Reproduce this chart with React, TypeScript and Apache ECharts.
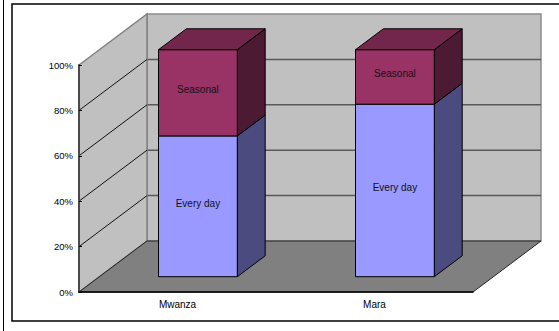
import React, { useEffect, useRef } from 'react';
import * as echarts from 'echarts';

const categories = ['Mwanza', 'Mara'];
const everyDay = [62, 76];
const seasonal = [38, 24];
const seriesNames = ['Every day', 'Seasonal'];
const yTicks = [0, 20, 40, 60, 80, 100];

// Oblique depth vector of the 3-D box, in pixels for the full floor depth
const DX = 68;
const DY = -51;
// Depth range occupied by the columns (fractions of the floor depth)
const BAR_D0 = 0.3;
const BAR_D1 = 0.71;
const FONT = 'Liberation Sans, Arial, sans-serif';

const faceColors: Record<string, { front: string; side: string; top: string }> = {
  'Every day': { front: '#9999ff', side: '#4b4b7f', top: '#7373bf' },
  Seasonal: { front: '#993366', side: '#4c1a33', top: '#73264c' },
};

function renderWalls(params: any, api: any) {
  const cs = params.coordSys;
  const x0 = cs.x;
  const x1 = cs.x + cs.width;
  const yb = api.coord([0, 0])[1];
  const yt = api.coord([0, 100])[1];
  const inner = yTicks.slice(1, -1);
  const children: any[] = [];
  // back wall
  children.push({
    type: 'polygon',
    shape: { points: [[x0 + DX, yt + DY], [x1 + DX, yt + DY], [x1 + DX, yb + DY], [x0 + DX, yb + DY]] },
    style: { fill: '#c0c0c0', stroke: '#8c8c8c', lineWidth: 1.5 },
  });
  inner.forEach((v) => {
    const y = api.coord([0, v])[1] + DY;
    children.push({
      type: 'line',
      shape: { x1: x0 + DX, y1: y, x2: x1 + DX, y2: y },
      style: { stroke: '#595959', lineWidth: 1.5 },
    });
  });
  // left wall
  children.push({
    type: 'polygon',
    shape: { points: [[x0, yb], [x0, yt], [x0 + DX, yt + DY], [x0 + DX, yb + DY]] },
    style: { fill: '#c0c0c0', stroke: '#808080', lineWidth: 1.5 },
  });
  inner.forEach((v) => {
    const y = api.coord([0, v])[1];
    children.push({
      type: 'line',
      shape: { x1: x0, y1: y, x2: x0 + DX, y2: y + DY },
      style: { stroke: '#111', lineWidth: 1 },
    });
  });
  // floor
  children.push({
    type: 'polygon',
    shape: { points: [[x0, yb], [x1, yb], [x1 + DX, yb + DY], [x0 + DX, yb + DY]] },
    style: { fill: '#808080', stroke: '#222', lineWidth: 1 },
  });
  return { type: 'group', children };
}

function makeBarRenderer(name: string, isTop: boolean) {
  const c = faceColors[name];
  return (params: any, api: any) => {
    const idx = api.value(0);
    const base = api.value(1);
    const top = api.value(2);
    const w = api.size([1, 0])[0] * 0.4;
    const cx = api.coord([idx, 0])[0] + DX * BAR_D0;
    const xa = cx - w / 2;
    const xb = cx + w / 2;
    const yBase = api.coord([idx, base])[1] + DY * BAR_D0;
    const yTop = api.coord([idx, top])[1] + DY * BAR_D0;
    const ddx = DX * (BAR_D1 - BAR_D0);
    const ddy = DY * (BAR_D1 - BAR_D0);
    const edge = { stroke: '#000', lineWidth: 1 };
    const children: any[] = [
      {
        type: 'polygon',
        shape: { points: [[xb, yTop], [xb + ddx, yTop + ddy], [xb + ddx, yBase + ddy], [xb, yBase]] },
        style: { fill: c.side, ...edge },
      },
      {
        type: 'rect',
        shape: { x: xa, y: yTop, width: w, height: yBase - yTop },
        style: { fill: c.front, ...edge },
      },
    ];
    if (isTop) {
      children.push({
        type: 'polygon',
        shape: { points: [[xa, yTop], [xa + ddx, yTop + ddy], [xb + ddx, yTop + ddy], [xb, yTop]] },
        style: { fill: c.top, ...edge },
      });
    }
    // segment label, sitting slightly above the middle of the front face
    children.push({
      type: 'text',
      x: cx,
      y: (yTop + yBase) / 2 - 3,
      style: {
        text: name,
        fill: '#111',
        fontSize: 10,
        fontFamily: FONT,
        align: 'center',
        verticalAlign: 'middle',
      },
    });
    return { type: 'group', children };
  };
}

export default function App() {
  const ref = useRef<HTMLDivElement>(null);

  useEffect(() => {
    if (!ref.current) return;
    const chart = echarts.init(ref.current, undefined, { renderer: 'svg' });

    const everyDayData = categories.map((_, i) => [i, 0, everyDay[i]]);
    const seasonalData = categories.map((_, i) => [i, everyDay[i], everyDay[i] + seasonal[i]]);

    chart.setOption({
      animation: false,
      backgroundColor: '#ffffff',
      grid: { left: 79, top: 65, width: 394, height: 227, containLabel: false },
      xAxis: {
        type: 'category',
        data: categories,
        z: 10,
        axisLine: { lineStyle: { color: '#000', width: 1.5 } },
        axisTick: { inside: true, length: 3, lineStyle: { color: '#000' } },
        axisLabel: { margin: 7, fontSize: 10, color: '#000', fontFamily: FONT },
        splitLine: { show: false },
      },
      yAxis: {
        type: 'value',
        min: 0,
        max: 100,
        interval: 20,
        z: 10,
        axisLine: { show: true, lineStyle: { color: '#4a4a4a', width: 2 } },
        axisTick: { show: true, inside: true, length: 3, lineStyle: { color: '#000' } },
        axisLabel: { margin: 6, fontSize: 9.5, color: '#000', fontFamily: FONT, formatter: '{value}%' },
        splitLine: { show: false },
      },
      graphic: [
        {
          type: 'rect',
          shape: { x: 12, y: 4, width: 560, height: 317 },
          style: { fill: 'none', stroke: '#000', lineWidth: 1.5 },
          silent: true,
        },
        {
          type: 'line',
          shape: { x1: 3.5, y1: 0, x2: 3.5, y2: 331 },
          style: { stroke: '#000', lineWidth: 1 },
          silent: true,
        },
      ],
      series: [
        {
          type: 'custom',
          name: 'walls',
          silent: true,
          z: 1,
          data: [[0, 0]],
          encode: { x: 0, y: 1 },
          renderItem: renderWalls,
        },
        {
          type: 'custom',
          name: seriesNames[0],
          silent: true,
          z: 2,
          data: everyDayData,
          encode: { x: 0, y: [1, 2] },
          renderItem: makeBarRenderer(seriesNames[0], false),
        },
        {
          type: 'custom',
          name: seriesNames[1],
          silent: true,
          z: 3,
          data: seasonalData,
          encode: { x: 0, y: [1, 2] },
          renderItem: makeBarRenderer(seriesNames[1], true),
        },
      ],
    });

    return () => chart.dispose();
  }, []);

  return <div ref={ref} style={{ position: 'fixed', left: 0, top: 0, width: 559, height: 331 }} />;
}
